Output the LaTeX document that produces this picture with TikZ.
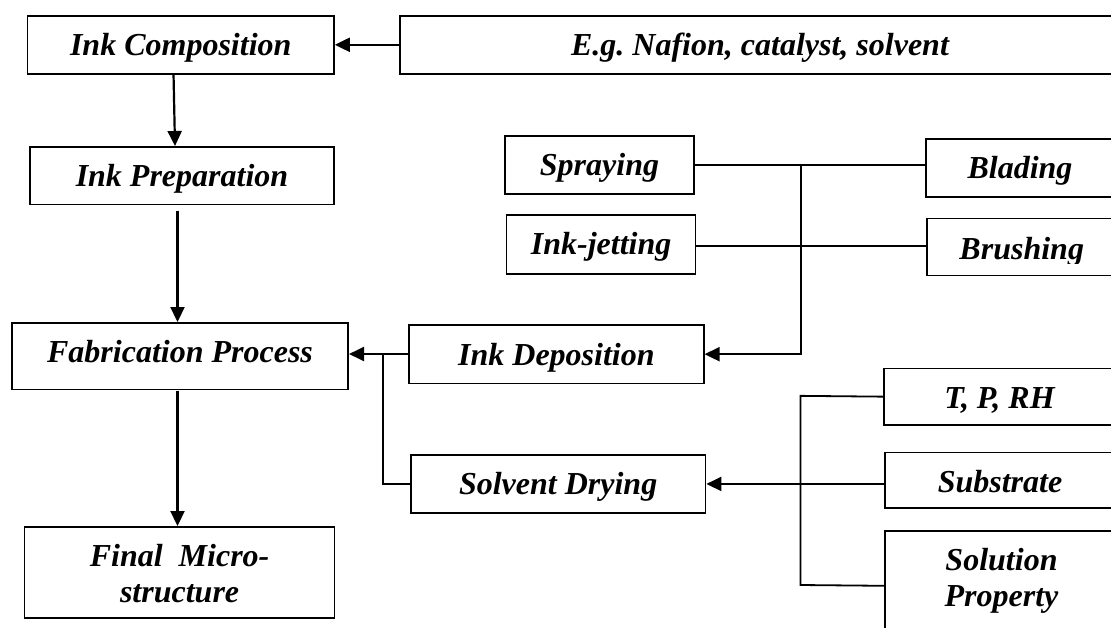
\documentclass[tikz,border=0pt]{standalone}
\usepackage{fontspec}
\setmainfont{Liberation Serif}
\usetikzlibrary{arrows.meta}
\tikzset{
  box/.style={draw=black, line width=1.6pt, inner sep=0pt, anchor=north,
    text height=40pt, align=center,
    font=\fontsize{32}{36}\selectfont\bfseries\itshape},
  plainbox/.style={box, draw=none},
  link/.style={line width=1.8pt, draw=black},
  arr/.style={line width=2.2pt, draw=black, -{Triangle[length=15pt,width=14pt]}},
}
\begin{document}
\begin{tikzpicture}[x=1pt,y=1pt]
\useasboundingbox (0,0) rectangle (1111,-627);
\clip (0,0) rectangle (1111,-627);
% left column
\node[box, minimum width=306.5pt, text depth=18pt] (comp) at (180.75,-15) {Ink Composition};
\node[box, minimum width=720pt, text depth=18pt] (eg) at (760,-15) {E.g.\ Nafion, catalyst, solvent};
\node[box, minimum width=304pt, text depth=17.5pt] (prep) at (182,-146) {Ink Preparation};
\node[box, minimum width=336.5pt, text depth=26.5pt] (fab) at (180,-322) {Fabrication Process};
\node[box, minimum width=310pt, text depth=51pt] (final) at (179.6,-526)
  {\begin{tabular}[t]{@{}c@{}}Final\ \ Micro-\\structure\end{tabular}};
% deposition methods
\node[box, minimum width=189pt, text depth=18pt] (spray) at (599.5,-135) {Spraying};
\node[box, minimum width=188pt, text depth=18pt] (blade) at (1020,-138) {Blading};
\node[box, minimum width=189pt, text depth=19pt] (inkjet) at (601.15,-214) {Ink-jetting};
\begin{scope}
\clip (900,-200) rectangle (1111,-263.5);
\node[plainbox, minimum width=188.5pt, text depth=15.7pt] (brush) at (1021.75,-218.3) {Brushing};
\end{scope}
\draw[line width=1.6pt] (brush.south west) rectangle (brush.north east);
% middle column
\node[box, minimum width=294.8pt, text depth=18.2pt] (dep) at (556.4,-324.3) {Ink Deposition};
\node[box, minimum width=294.9pt, text depth=18.3pt] (solv) at (558.15,-454) {Solvent Drying};
% drying factors
\node[box, minimum width=231pt, text depth=16.3pt] (tpr) at (999.5,-367.7) {T, P, RH};
\node[box, minimum width=230pt, text depth=15.6pt] (subs) at (1000,-451.7) {Substrate};
\node[box, minimum width=233pt, text depth=70pt] (sol) at (1001.5,-530)
  {\begin{tabular}[t]{@{}c@{}}Solution\\Property\end{tabular}};
% junction coordinates
\coordinate (jtop) at (800.7,-165);
\coordinate (jjet) at (800.7,-246);
\coordinate (jfab) at (383,-354);
\coordinate (jr1) at (800.4,-395.85);
\coordinate (jr2) at (800.4,-585);
\coordinate (c1s) at (173.5,-73);
\coordinate (c1e) at (175,-146);
\coordinate (c2s) at (177.5,-203.5);
\coordinate (c2e) at (177.5,-322);
\coordinate (c3s) at (177.5,-388.5);
\coordinate (c3e) at (177.5,-526);
% connectors
\draw[arr] (eg.west) -- (comp.east |- eg.west);
\draw[arr, shorten <=2pt] (c1s) -- (c1e);
\draw[arr, shorten <=7pt] (c2s) -- (c2e);
\draw[arr, shorten <=2pt] (c3s) -- (c3e);
\draw[link] (spray.east |- jtop) -- (blade.west |- jtop);
\draw[link] (inkjet.east |- jjet) -- (brush.west |- jjet);
\draw[arr] (jtop) |- (dep.east);
\draw[arr] (dep.west |- jfab) -- (fab.east |- jfab);
\draw[link] (jfab) |- (solv.west);
\draw[link] (tpr.west) -- (jr1) -- (jr2) -- (sol.west);
\draw[arr] (subs.west |- solv.east) -- (solv.east);
\end{tikzpicture}
\end{document}
